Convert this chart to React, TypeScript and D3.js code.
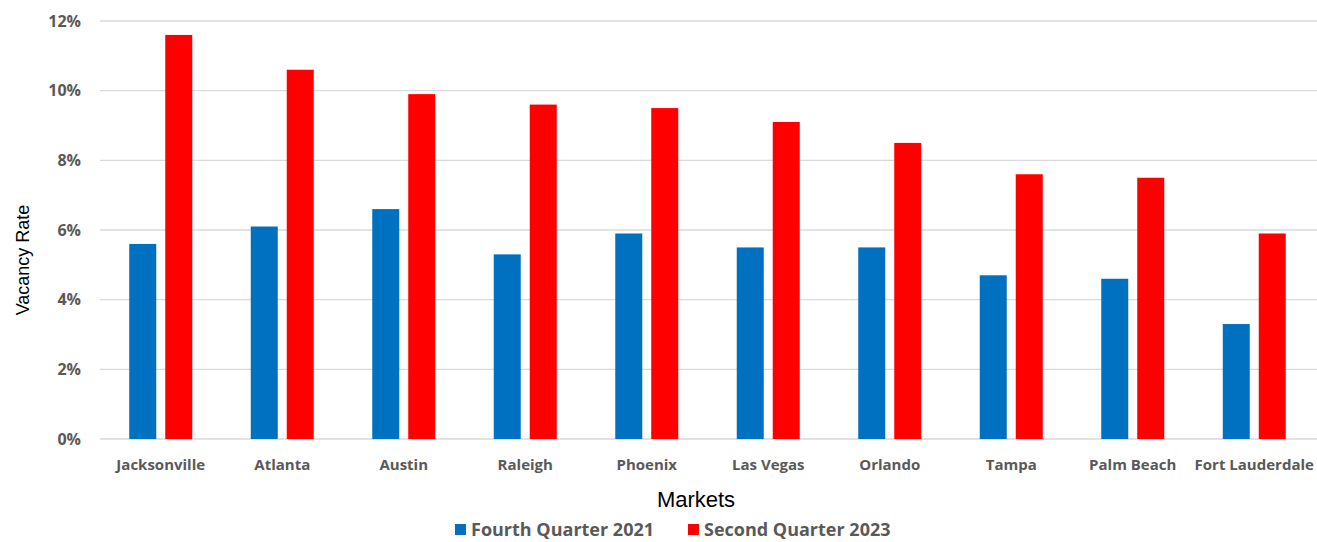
import React from "react";
import * as d3 from "d3";

const categories = ["Jacksonville", "Atlanta", "Austin", "Raleigh", "Phoenix", "Las Vegas", "Orlando", "Tampa", "Palm Beach", "Fort Lauderdale"];
const q4_2021 = [5.6, 6.1, 6.6, 5.3, 5.9, 5.5, 5.5, 4.7, 4.6, 3.3];
const q2_2023 = [11.6, 10.6, 9.9, 9.6, 9.5, 9.1, 8.5, 7.6, 7.5, 5.9];
const yTicks = [0, 2, 4, 6, 8, 10, 12];
const seriesNames = ["Fourth Quarter 2021", "Second Quarter 2023"];
const seriesColors = ["#0070C0", "#FF0000"];

export default function App() {
  const W = 1317, H = 542;
  const left = 100, right = 1315, top = 21, bottom = 439;
  const x = d3.scaleBand<string>().domain(categories).range([left, right]).paddingInner(0).paddingOuter(0);
  const y = d3.scaleLinear().domain([0, 12]).range([bottom, top]);
  const barW = 27, gap = 9;
  const series = [q4_2021, q2_2023];
  const labelFont = "'Open Sans', 'DejaVu Sans', sans-serif";
  return (
    <svg width={W} height={H} style={{ position: "absolute", left: 0, top: 0, background: "#fff" }}>
      {yTicks.map((t) => (
        <g key={t}>
          <line x1={left} x2={W} y1={y(t)} y2={y(t)} stroke="#d9d9d9" strokeWidth={1.3} />
          <text x={81} y={y(t)} dy="0.35em" textAnchor="end" fontFamily={labelFont} fontWeight={700} fontSize={16} fill="#595959">{t}%</text>
        </g>
      ))}
      {categories.map((c, i) => {
        const cx = (x(c) as number) + x.bandwidth() / 2;
        return (
          <g key={c}>
            {series.map((s, k) => {
              const bx = k === 0 ? cx - gap / 2 - barW : cx + gap / 2;
              return (
                <rect key={k} x={bx} y={y(s[i])} width={barW} height={bottom - y(s[i])} fill={seriesColors[k]} />
              );
            })}
            <text x={cx} y={465} dy="0.35em" textAnchor="middle" fontFamily={labelFont} fontWeight={700} fontSize={15} fill="#595959">{c}</text>
          </g>
        );
      })}
      <text transform={`translate(23,260) rotate(-90)`} textAnchor="middle" dy="0.35em" fontFamily="'Liberation Sans', Arial, sans-serif" fontSize={18} fill="#000">Vacancy Rate</text>
      <text x={696} y={499} dy="0.35em" textAnchor="middle" fontFamily="'Liberation Sans', Arial, sans-serif" fontSize={22} fill="#000">Markets</text>
      {seriesNames.map((n, k) => {
        const lx = k === 0 ? 455 : 688;
        return (
          <g key={n}>
            <rect x={lx} y={524} width={11} height={11} fill={seriesColors[k]} />
            <text x={lx + 16} y={530} dy="0.35em" fontFamily={labelFont} fontWeight={700} fontSize={18} fill="#595959">{n}</text>
          </g>
        );
      })}
    </svg>
  );
}
